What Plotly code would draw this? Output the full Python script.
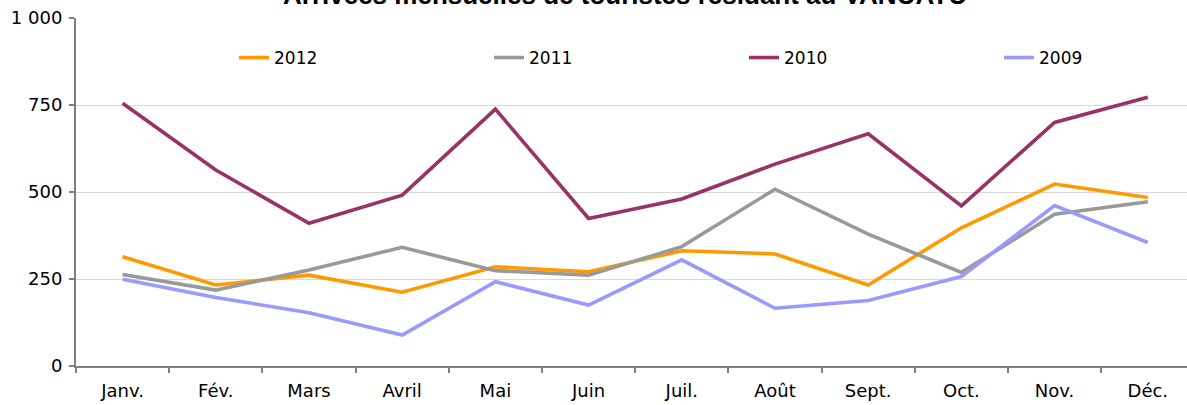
import plotly.graph_objects as go

months = ["Janv.", "Fév.", "Mars", "Avril", "Mai", "Juin", "Juil.", "Août", "Sept.", "Oct.", "Nov.", "Déc."]
y2012 = [314, 233, 261, 212, 285, 271, 331, 322, 233, 397, 523, 484]
y2011 = [263, 218, 276, 341, 274, 261, 343, 508, 379, 269, 436, 472]
y2010 = [755, 563, 410, 491, 738, 424, 480, 580, 667, 460, 700, 772]
y2009 = [249, 197, 153, 89, 242, 175, 305, 166, 188, 257, 461, 355]

series = [("2012", y2012, "#FF9900"), ("2011", y2011, "#999999"),
          ("2010", y2010, "#993366"), ("2009", y2009, "#9999FF")]
legend_px = [234, 489, 744, 999]

W, H = 1187, 405
L, R, T, B = 76, 0, 18, 39
pw = W - L - R
ph = H - T - B
cat = 93.2

fig = go.Figure()
legend_layouts = {}
for i, (name, vals, col) in enumerate(series):
    lid = "legend" if i == 0 else f"legend{i + 1}"
    fig.add_trace(go.Scatter(x=months, y=vals, name=name, mode="lines",
                             line=dict(color=col, width=3.6), legend=lid))
    legend_layouts[lid] = dict(orientation="h", x=(legend_px[i] - L) / pw, xanchor="left",
                               y=(H - B - 58) / ph, yanchor="middle",
                               bgcolor="rgba(0,0,0,0)",
                               font=dict(family="DejaVu Sans", size=17, color="black"),
                               itemwidth=30)

fig.update_layout(
    width=W, height=H,
    margin=dict(l=L, r=R, t=T, b=B, pad=0, autoexpand=False),
    paper_bgcolor="white", plot_bgcolor="white",
    separators=", ",
    font=dict(family="DejaVu Sans", size=18, color="black"),
    showlegend=True,
    xaxis=dict(type="category", range=[-0.5, pw / cat - 0.5], showgrid=False,
               showline=True, linecolor="#7F7F7F", linewidth=2,
               ticks="outside", tickson="boundaries", ticklen=5, tickcolor="#7F7F7F",
               tickwidth=1.5, ticklabelstandoff=7,
               tickfont=dict(family="DejaVu Sans", size=18), fixedrange=True,
               automargin=False),
    yaxis=dict(range=[0, 1000], tickvals=[0, 250, 500, 750, 1000], tickformat=",d",
               showgrid=True, gridcolor="#D9D9D9", gridwidth=1, zeroline=False,
               showline=True, linecolor="#7F7F7F", linewidth=2,
               ticks="outside", ticklen=5, tickcolor="#7F7F7F", tickwidth=1.5,
               ticklabelstandoff=3,
               tickfont=dict(family="DejaVu Sans", size=18), automargin=False),
    annotations=[dict(text="<b>Arrivées mensuelles de touristes résidant au VANUATU</b>",
                      xref="paper", yref="paper", x=(625 - L) / pw, y=1, xanchor="center",
                      yanchor="bottom", yshift=6, showarrow=False,
                      font=dict(family="Liberation Sans", size=26, color="black"))],
    **legend_layouts,
)

fig.write_html("out.html", config={"displayModeBar": False},
               post_script="document.body.style.margin='0';document.body.style.overflow='hidden';")
